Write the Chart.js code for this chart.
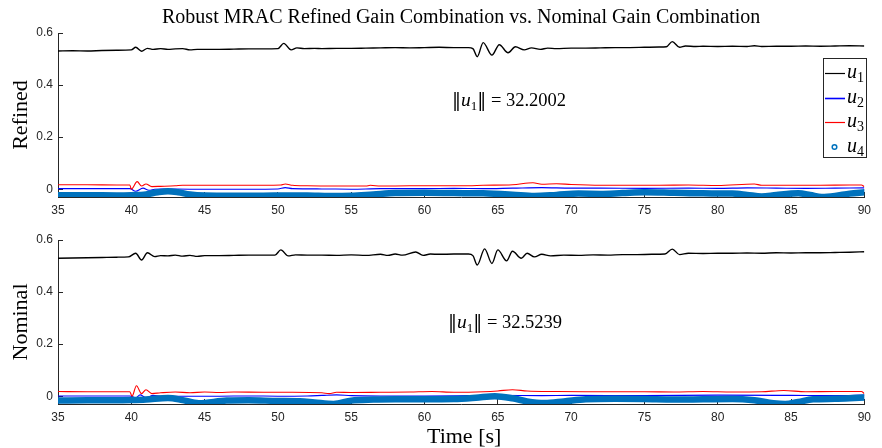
<!DOCTYPE html>
<html><head><meta charset="utf-8">
<script src="https://cdn.jsdelivr.net/npm/chart.js@4.4.1/dist/chart.umd.min.js"></script>
<style>
html,body{margin:0;padding:0;background:#fff;}
#wrap{position:relative;width:882px;height:448px;overflow:hidden;background:#fff;}
canvas{position:absolute;left:0;}
#c1{top:0;} #c2{top:222px;}
</style></head><body>
<div id="wrap"><canvas id="c1" width="882" height="222"></canvas><canvas id="c2" width="882" height="226"></canvas></div>
<script>
// ---------- axis ticks ----------
const timeTicks = [35,40,45,50,55,60,65,70,75,80,85,90];
const yTicks = [0,0.2,0.4,0.6];
const seriesNames = ['u1','u2','u3','u4'];

// ---------- Refined: u1 ----------
const refU1T = [35,36,37,38,39,40,40.3,40.7,41.1,41.5,42,42.5,43,43.5,44,44.5,45,46,47,48,49,50,50.4,50.9,51.3,51.8,52.5,53,54,55,56,57,58,59,60,61,62,63,63.3,63.6,64.0,64.6,65.1,65.7,66.2,66.8,67.3,67.9,68.4,69,70,71,72,73,74,75,76,76.5,76.9,77.4,77.8,78.5,79,80,81,82,82.5,83,84,85,86,87,88,89,90];
const refU1V = [0.531,0.532,0.531,0.533,0.534,0.535,0.545,0.530,0.541,0.537,0.540,0.537,0.539,0.540,0.535,0.537,0.537,0.537,0.538,0.539,0.539,0.540,0.560,0.535,0.543,0.540,0.541,0.540,0.541,0.541,0.542,0.543,0.544,0.543,0.544,0.545,0.544,0.544,0.540,0.509,0.563,0.515,0.555,0.524,0.547,0.535,0.543,0.537,0.542,0.540,0.542,0.542,0.543,0.544,0.544,0.545,0.546,0.547,0.567,0.545,0.550,0.548,0.549,0.548,0.549,0.548,0.551,0.548,0.549,0.549,0.550,0.549,0.550,0.551,0.550];
// ---------- Refined: u2 ----------
const refU2T = [35,38,39.9,40.3,40.8,41.2,41.6,42,44,46,48,50,50.5,51,53,55,57,60,62,64,66,68,70,72,75,78,80,82,84,86,88,90];
const refU2V = [0.002,0.002,0.002,-0.008,0.004,-0.004,0.000,0.001,0.000,0.000,0.000,0.001,0.006,0.002,0.001,0.000,0.002,0.002,0.003,0.002,0.004,0.006,0.004,0.004,0.003,0.004,0.003,0.005,0.004,0.003,0.004,0.005];
// ---------- Refined: u3 ----------
const refU3T = [35,37,39,39.9,40.0,40.4,40.7,41.0,41.4,42,43,43.5,45,47,49,50.2,50.5,51,52,54,56,56.3,57,59,61,63,64,66,67.4,68,69,70,72,74,76,78,80,82.5,83,85,87,89,89.8,90];
const refU3V = [0.017,0.017,0.016,0.016,0.000,0.029,0.012,0.020,0.010,0.011,0.013,0.015,0.015,0.015,0.015,0.016,0.020,0.015,0.013,0.012,0.012,0.015,0.012,0.013,0.013,0.013,0.015,0.017,0.025,0.019,0.021,0.018,0.015,0.015,0.015,0.016,0.014,0.020,0.015,0.015,0.015,0.016,0.016,0.010];
// ---------- Refined: u4 ----------
const refU4T = [35,37,39,40,41,41.8,42.5,43.2,44,45,47,49,50.5,52,53.5,55,56.5,58,60,62,64,66,67.5,69,70.5,72,73.5,75,77,79,81,82,83,84,85.5,86.3,87.1,88,89,90];
const refU4V = [-0.023,-0.023,-0.024,-0.023,-0.020,-0.012,-0.008,-0.012,-0.020,-0.024,-0.025,-0.025,-0.024,-0.024,-0.026,-0.025,-0.020,-0.015,-0.014,-0.015,-0.016,-0.021,-0.026,-0.022,-0.017,-0.018,-0.015,-0.012,-0.014,-0.016,-0.017,-0.022,-0.028,-0.022,-0.016,-0.022,-0.030,-0.026,-0.017,-0.012];

// ---------- Nominal: u1 ----------
const nomU1T = [35,36,37,38,39,39.8,40.3,40.7,41.1,41.6,42,42.5,43,43.5,44,44.5,45,46,47,48,49,49.8,50.2,50.7,51.2,52,53,54,55,56,57,57.5,58,58.5,59.4,59.9,60.4,61,62,63,63.3,63.6,64.1,64.6,65.0,65.6,66.0,66.6,67.0,67.5,68.0,68.6,69.5,70.5,71.5,72.5,73.5,74.5,75.5,76.4,76.9,77.4,78,79,80,81,82,83,84,85,86,87,88,89,90];
const nomU1V = [0.530,0.531,0.532,0.533,0.534,0.535,0.549,0.523,0.551,0.536,0.540,0.539,0.542,0.538,0.541,0.537,0.540,0.540,0.541,0.542,0.542,0.542,0.562,0.539,0.543,0.542,0.542,0.541,0.543,0.541,0.545,0.541,0.546,0.542,0.554,0.541,0.546,0.545,0.546,0.546,0.540,0.504,0.566,0.510,0.562,0.520,0.557,0.530,0.549,0.535,0.545,0.539,0.542,0.541,0.543,0.542,0.544,0.544,0.545,0.546,0.565,0.544,0.549,0.548,0.549,0.549,0.550,0.549,0.551,0.550,0.551,0.551,0.552,0.553,0.555];
// ---------- Nominal: u2 ----------
const nomU2T = [35,38,39.9,40.3,40.6,41,41.5,42,44,46,48,50,52,53,54,55,57,60,63,65,68,70,75,80,85,88,90];
const nomU2V = [0.001,0.001,0.001,-0.006,0.005,-0.005,0.003,0.000,0.000,0.000,0.001,0.000,0.001,0.003,0.005,0.002,0.001,0.001,0.002,0.003,0.002,0.003,0.002,0.004,0.003,0.002,0.004];
// ---------- Nominal: u3 ----------
const nomU3T = [35,37,39,39.9,40.05,40.35,40.7,41.0,41.4,42,43,44,45,46,47,49,51,53,53.5,54,55,57,59,60.5,62,64,65,66,67,69,71,73,75,77,79,81,83,84.5,86,88,89.8,90];
const nomU3V = [0.018,0.017,0.017,0.017,0.000,0.040,0.010,0.025,0.010,0.013,0.016,0.013,0.016,0.014,0.016,0.015,0.015,0.013,0.010,0.015,0.014,0.015,0.016,0.018,0.015,0.017,0.020,0.025,0.020,0.018,0.017,0.017,0.017,0.016,0.018,0.016,0.017,0.022,0.017,0.018,0.018,0.010];
// ---------- Nominal: u4 ----------
const nomU4T = [35,37,39,40,41,42.5,43.5,44.6,46.5,48,50,51.5,52.5,53.8,55,56.5,58,60,62,63.5,64.8,66,67,68.2,69.5,71,73,75,77,79,81,82.5,83.8,84.6,85.5,86.5,88,89,90];
const nomU4V = [-0.017,-0.016,-0.016,-0.015,-0.013,-0.007,-0.015,-0.027,-0.017,-0.016,-0.018,-0.019,-0.024,-0.030,-0.017,-0.013,-0.012,-0.012,-0.011,-0.006,0.000,-0.008,-0.020,-0.026,-0.020,-0.012,-0.010,-0.011,-0.013,-0.012,-0.011,-0.016,-0.027,-0.030,-0.022,-0.012,-0.010,-0.008,-0.005];

// ---------- text ----------
const titleText = 'Robust MRAC Refined Gain Combination vs. Nominal Gain Combination';
const refLabel = 'Refined';
const nomLabel = 'Nominal';
const xLabel = 'Time [s]';
const refNorm = '32.2002';
const nomNorm = '32.5239';

// ---------- styling ----------
const SERIF = '"Liberation Serif", "DejaVu Serif", serif';
const SANS = '"Liberation Sans", Arial, sans-serif';
const AXIS = '#262626';
const COLORS = ['#000000', '#0000FF', '#FF0000', '#0072BD'];

function zip(T, V) {
  const n = Math.min(T.length, V.length);
  const out = [];
  for (let i = 0; i < n; i++) out.push({x: T[i], y: V[i]});
  return out;
}

function makeDatasets(u1, u2, u3, u4) {
  return [
    {label: 'u1', data: u1, borderColor: COLORS[0], borderWidth: 1.4, order: 4},
    {label: 'u2', data: u2, borderColor: COLORS[1], borderWidth: 1.1, order: 3},
    {label: 'u3', data: u3, borderColor: COLORS[2], borderWidth: 1.1, order: 2},
    {label: 'u4', data: u4, borderColor: COLORS[3], borderWidth: 6.5, borderCapStyle: 'round', borderJoinStyle: 'round', order: 1}
  ].map(d => Object.assign({pointRadius: 0, pointHoverRadius: 0, fill: false, cubicInterpolationMode: 'monotone'}, d));
}

function drawParts(ctx, parts, x, y) {
  // parts: [text, font, dy]
  let w = 0;
  parts.forEach(p => { ctx.font = p[1]; w += ctx.measureText(p[0]).width; });
  let cx = x;
  parts.forEach(p => {
    ctx.font = p[1];
    ctx.fillText(p[0], cx, y + (p[2] || 0));
    cx += ctx.measureText(p[0]).width;
  });
  return w;
}

const overlay = {
  id: 'overlay',
  afterDraw(chart, args, o) {
    const ctx = chart.ctx, ca = chart.chartArea;
    ctx.save();
    ctx.fillStyle = '#000';
    ctx.textBaseline = 'alphabetic';
    if (o.title) {
      ctx.font = '20px ' + SERIF;
      ctx.textAlign = 'center';
      ctx.fillText(o.title, (ca.left + ca.right) / 2, 23);
    }
    // y label
    ctx.save();
    ctx.translate(27, (ca.top + ca.bottom) / 2);
    ctx.rotate(-Math.PI / 2);
    ctx.font = '22px ' + SERIF;
    ctx.textAlign = 'center';
    ctx.fillText(o.ylabel, 0, 0);
    ctx.restore();
    if (o.xlabel) {
      ctx.font = '22px ' + SERIF;
      ctx.textAlign = 'center';
      ctx.fillText(o.xlabel, (ca.left + ca.right) / 2 + 3, o.xlabelY);
    }
    // norm annotation
    ctx.textAlign = 'left';
    const fN = '18px "DejaVu Serif", serif';
    const fR = '18.5px ' + SERIF, fI = 'italic 19.5px ' + SERIF, fS = '13px ' + SERIF;
    drawParts(ctx, [['\u2016', fN], ['u', fI], ['1', fS, 4], ['\u2016', fN], [' = ' + o.norm, fR]], o.noteX, o.noteY);
    // legend
    if (o.legend) {
      const bx = 823.5, by = 58.5, bw = 43, bh = 99;
      ctx.fillStyle = '#fff';
      ctx.fillRect(bx, by, bw, bh);
      ctx.strokeStyle = AXIS; ctx.lineWidth = 1;
      ctx.strokeRect(bx, by, bw, bh);
      const rows = [73, 98, 122, 147];
      seriesNames.forEach((nm, i) => {
        const yy = rows[i];
        ctx.strokeStyle = COLORS[i];
        if (i < 3) {
          ctx.lineWidth = i === 1 ? 1.6 : 1.2;
          ctx.beginPath(); ctx.moveTo(825, yy + 0.5); ctx.lineTo(845, yy + 0.5); ctx.stroke();
        } else {
          ctx.lineWidth = 1.5;
          ctx.beginPath(); ctx.arc(834.5, yy, 2.3, 0, Math.PI * 2); ctx.stroke();
        }
        ctx.fillStyle = '#000';
        drawParts(ctx, [[nm.charAt(0), 'italic 20px ' + SERIF], [nm.slice(1), '14px ' + SERIF, 4]], 847, yy + 5);
      });
    }
    ctx.restore();
  }
};

function scales() {
  const common = {
    type: 'linear',
    grid: {drawOnChartArea: false, drawTicks: true, tickLength: -5, color: AXIS, lineWidth: 1},
    border: {display: true, color: AXIS, width: 1},
    ticks: {color: AXIS, font: {family: SANS, size: 12}, autoSkip: false, maxRotation: 0, minRotation: 0}
  };
  return {
    x: Object.assign({}, common, {
      min: 35, max: 90,
      ticks: Object.assign({}, common.ticks, {padding: 11, callback: v => String(v)}),
      afterBuildTicks: s => { s.ticks = timeTicks.map(v => ({value: v})); },
      afterFit: s => { s.height = 25; }
    }),
    y: Object.assign({}, common, {
      min: -0.03, max: 0.6,
      ticks: Object.assign({}, common.ticks, {padding: 10, callback: v => (Math.round(v * 10) / 10).toString()}),
      afterBuildTicks: s => { s.ticks = yTicks.map(v => ({value: v})); },
      afterFit: s => { s.width = 58; }
    })
  };
}

function makeChart(id, datasets, pad, ov) {
  return new Chart(document.getElementById(id), {
    type: 'line',
    data: {datasets},
    options: {
      responsive: false, animation: false, devicePixelRatio: 1,
      parsing: true, normalized: true,
      layout: {padding: pad},
      plugins: {legend: {display: false}, tooltip: {enabled: false}, overlay: ov},
      scales: scales(),
      elements: {line: {tension: 0}}
    },
    plugins: [overlay]
  });
}

makeChart('c1', makeDatasets(zip(refU1T, refU1V), zip(refU2T, refU2V), zip(refU3T, refU3V), zip(refU4T, refU4V)),
  {top: 33, right: 9, bottom: 0, left: 0},
  {title: titleText, ylabel: refLabel, norm: refNorm, noteX: 452, noteY: 106, legend: true});

makeChart('c2', makeDatasets(zip(nomU1T, nomU1V), zip(nomU2T, nomU2V), zip(nomU3T, nomU3V), zip(nomU4T, nomU4V)),
  {top: 18, right: 9, bottom: 19, left: 0},
  {ylabel: nomLabel, xlabel: xLabel, xlabelY: 221, norm: nomNorm, noteX: 448, noteY: 106, legend: false});
</script></body></html>
